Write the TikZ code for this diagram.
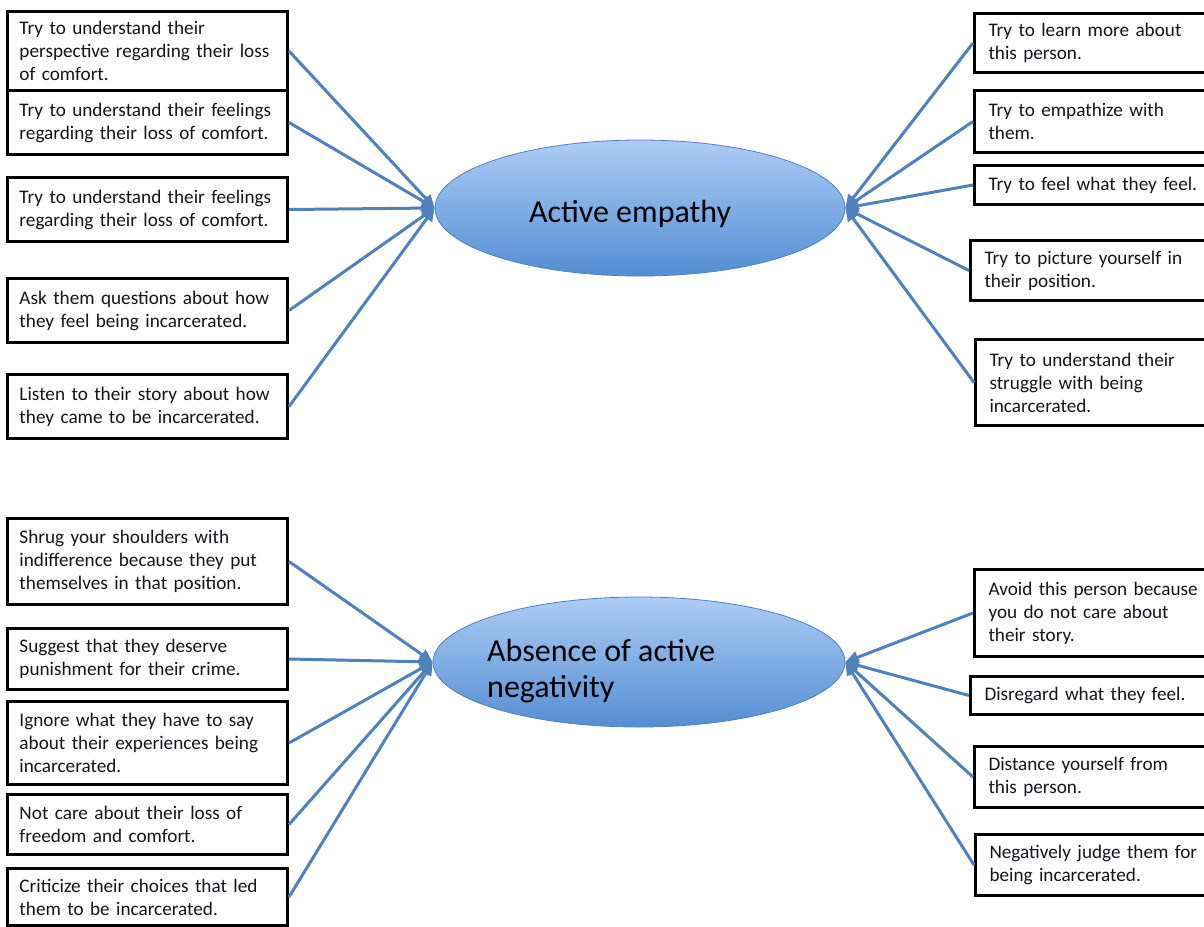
\documentclass[tikz,border=0pt]{standalone}
\usepackage{fontspec}
\setmainfont{Carlito}
\usetikzlibrary{shapes.geometric,arrows.meta}
\definecolor{lineblue}{RGB}{79,129,189}
\definecolor{elltop}{RGB}{172,205,243}
\definecolor{ellbot}{RGB}{84,141,212}
\definecolor{ellline}{RGB}{78,128,192}
\definecolor{txt}{RGB}{20,20,30}
\newcommand\myboxfont{\fontsize{19.2}{23}\selectfont\hyphenpenalty=10000\relax\exhyphenpenalty=10000\relax}
\tikzset{
  boxL/.style={draw=black, line width=3pt, rectangle, anchor=north west, align=left,
    inner xsep=12pt, inner ysep=0pt, text width=256pt, text=txt,
    font=\myboxfont},
  boxR/.style={boxL, inner xsep=14pt, text width=220pt},
  conn/.style={draw=lineblue, line width=3pt, -{Triangle[length=13pt,width=12pt]}},
  hub/.style={ellipse, draw=ellline, line width=0.8pt, top color=elltop, bottom color=ellbot,
    minimum width=410pt, minimum height=136pt, inner sep=0pt},
  hubtext/.style={font=\fontsize{32}{36}\selectfont, align=left, text=black, inner sep=0pt},
}
\begin{document}
\begin{tikzpicture}[x=1pt,y=-1pt]
\useasboundingbox (0,0) rectangle (1204,926);

% hubs
\node[hub] (AE) at (640,208) {};
\node[hubtext] (AEt) at (630,214) {Active empathy};
\node[hub, minimum height=130pt, minimum width=412pt] (AN) at (639,662) {};
\node[hubtext, anchor=west] (ANt) at (487,671) {Absence of active\\negativity};

% top left boxes
\node[boxL, minimum height=79pt] (L1) at (6,10) {Try to understand their\\perspective regarding their loss\\of comfort.};
\node[boxL, minimum height=64pt] (L2) at (6,89) {Try to understand their feelings\\regarding their loss of comfort.};
\node[boxL, minimum height=64pt] (L3) at (6,176) {Try to understand their feelings\\regarding their loss of comfort.};
\node[boxL, minimum height=64pt] (L4) at (6,277) {Ask them questions about how\\they feel being incarcerated.};
\node[boxL, minimum height=64pt] (L5) at (6,373) {Listen to their story about how\\they came to be incarcerated.};

% top right boxes
\node[boxR, minimum height=59pt] (R1) at (973,12) {Try to learn more about\\this person.};
\node[boxR, minimum height=62pt] (R2) at (973,89) {Try to empathize with\\them.};
\node[boxR, minimum height=39pt] (R3) at (973,164) {Try to feel what they feel.};
\node[boxR, minimum height=60pt] (R4) at (969,239) {Try to picture yourself in\\their position.};
\node[boxR, minimum height=86pt] (R5) at (974,338) {Try to understand their\\struggle with being\\incarcerated.};

% bottom left boxes
\node[boxL, minimum height=86pt] (B1) at (6,517) {Shrug your shoulders with\\indifference because they put\\themselves in that position.};
\node[boxL, minimum height=61pt] (B2) at (6,627) {Suggest that they deserve\\punishment for their crime.};
\node[boxL, minimum height=83pt] (B3) at (6,700) {Ignore what they have to say\\about their experiences being\\incarcerated.};
\node[boxL, minimum height=60pt] (B4) at (6,793) {Not care about their loss of\\freedom and comfort.};
\node[boxL, minimum height=57pt] (B5) at (6,867) {Criticize their choices that led\\them to be incarcerated.};

% bottom right boxes
\node[boxR, minimum height=87pt] (S1) at (973,568) {Avoid this person because\\you do not care about\\their story.};
\node[boxR, minimum height=38pt] (S2) at (969,675) {Disregard what they feel.};
\node[boxR, minimum height=61pt] (S3) at (973,745) {Distance yourself from\\this person.};
\node[boxR, minimum height=61pt] (S4) at (974,833) {Negatively judge them for\\being incarcerated.};

% connectors
\foreach \b in {L1,L2,L3,L4,L5} \draw[conn] (\b.east) -- (AE.west);
\foreach \b in {R1,R2,R3,R4,R5} \draw[conn] (\b.west) -- (AE.east);
\foreach \b in {B1,B2,B3,B4,B5} \draw[conn] (\b.east) -- (AN.west);
\foreach \b in {S1,S2,S3,S4} \draw[conn] (\b.west) -- (AN.east);
\end{tikzpicture}
\end{document}
